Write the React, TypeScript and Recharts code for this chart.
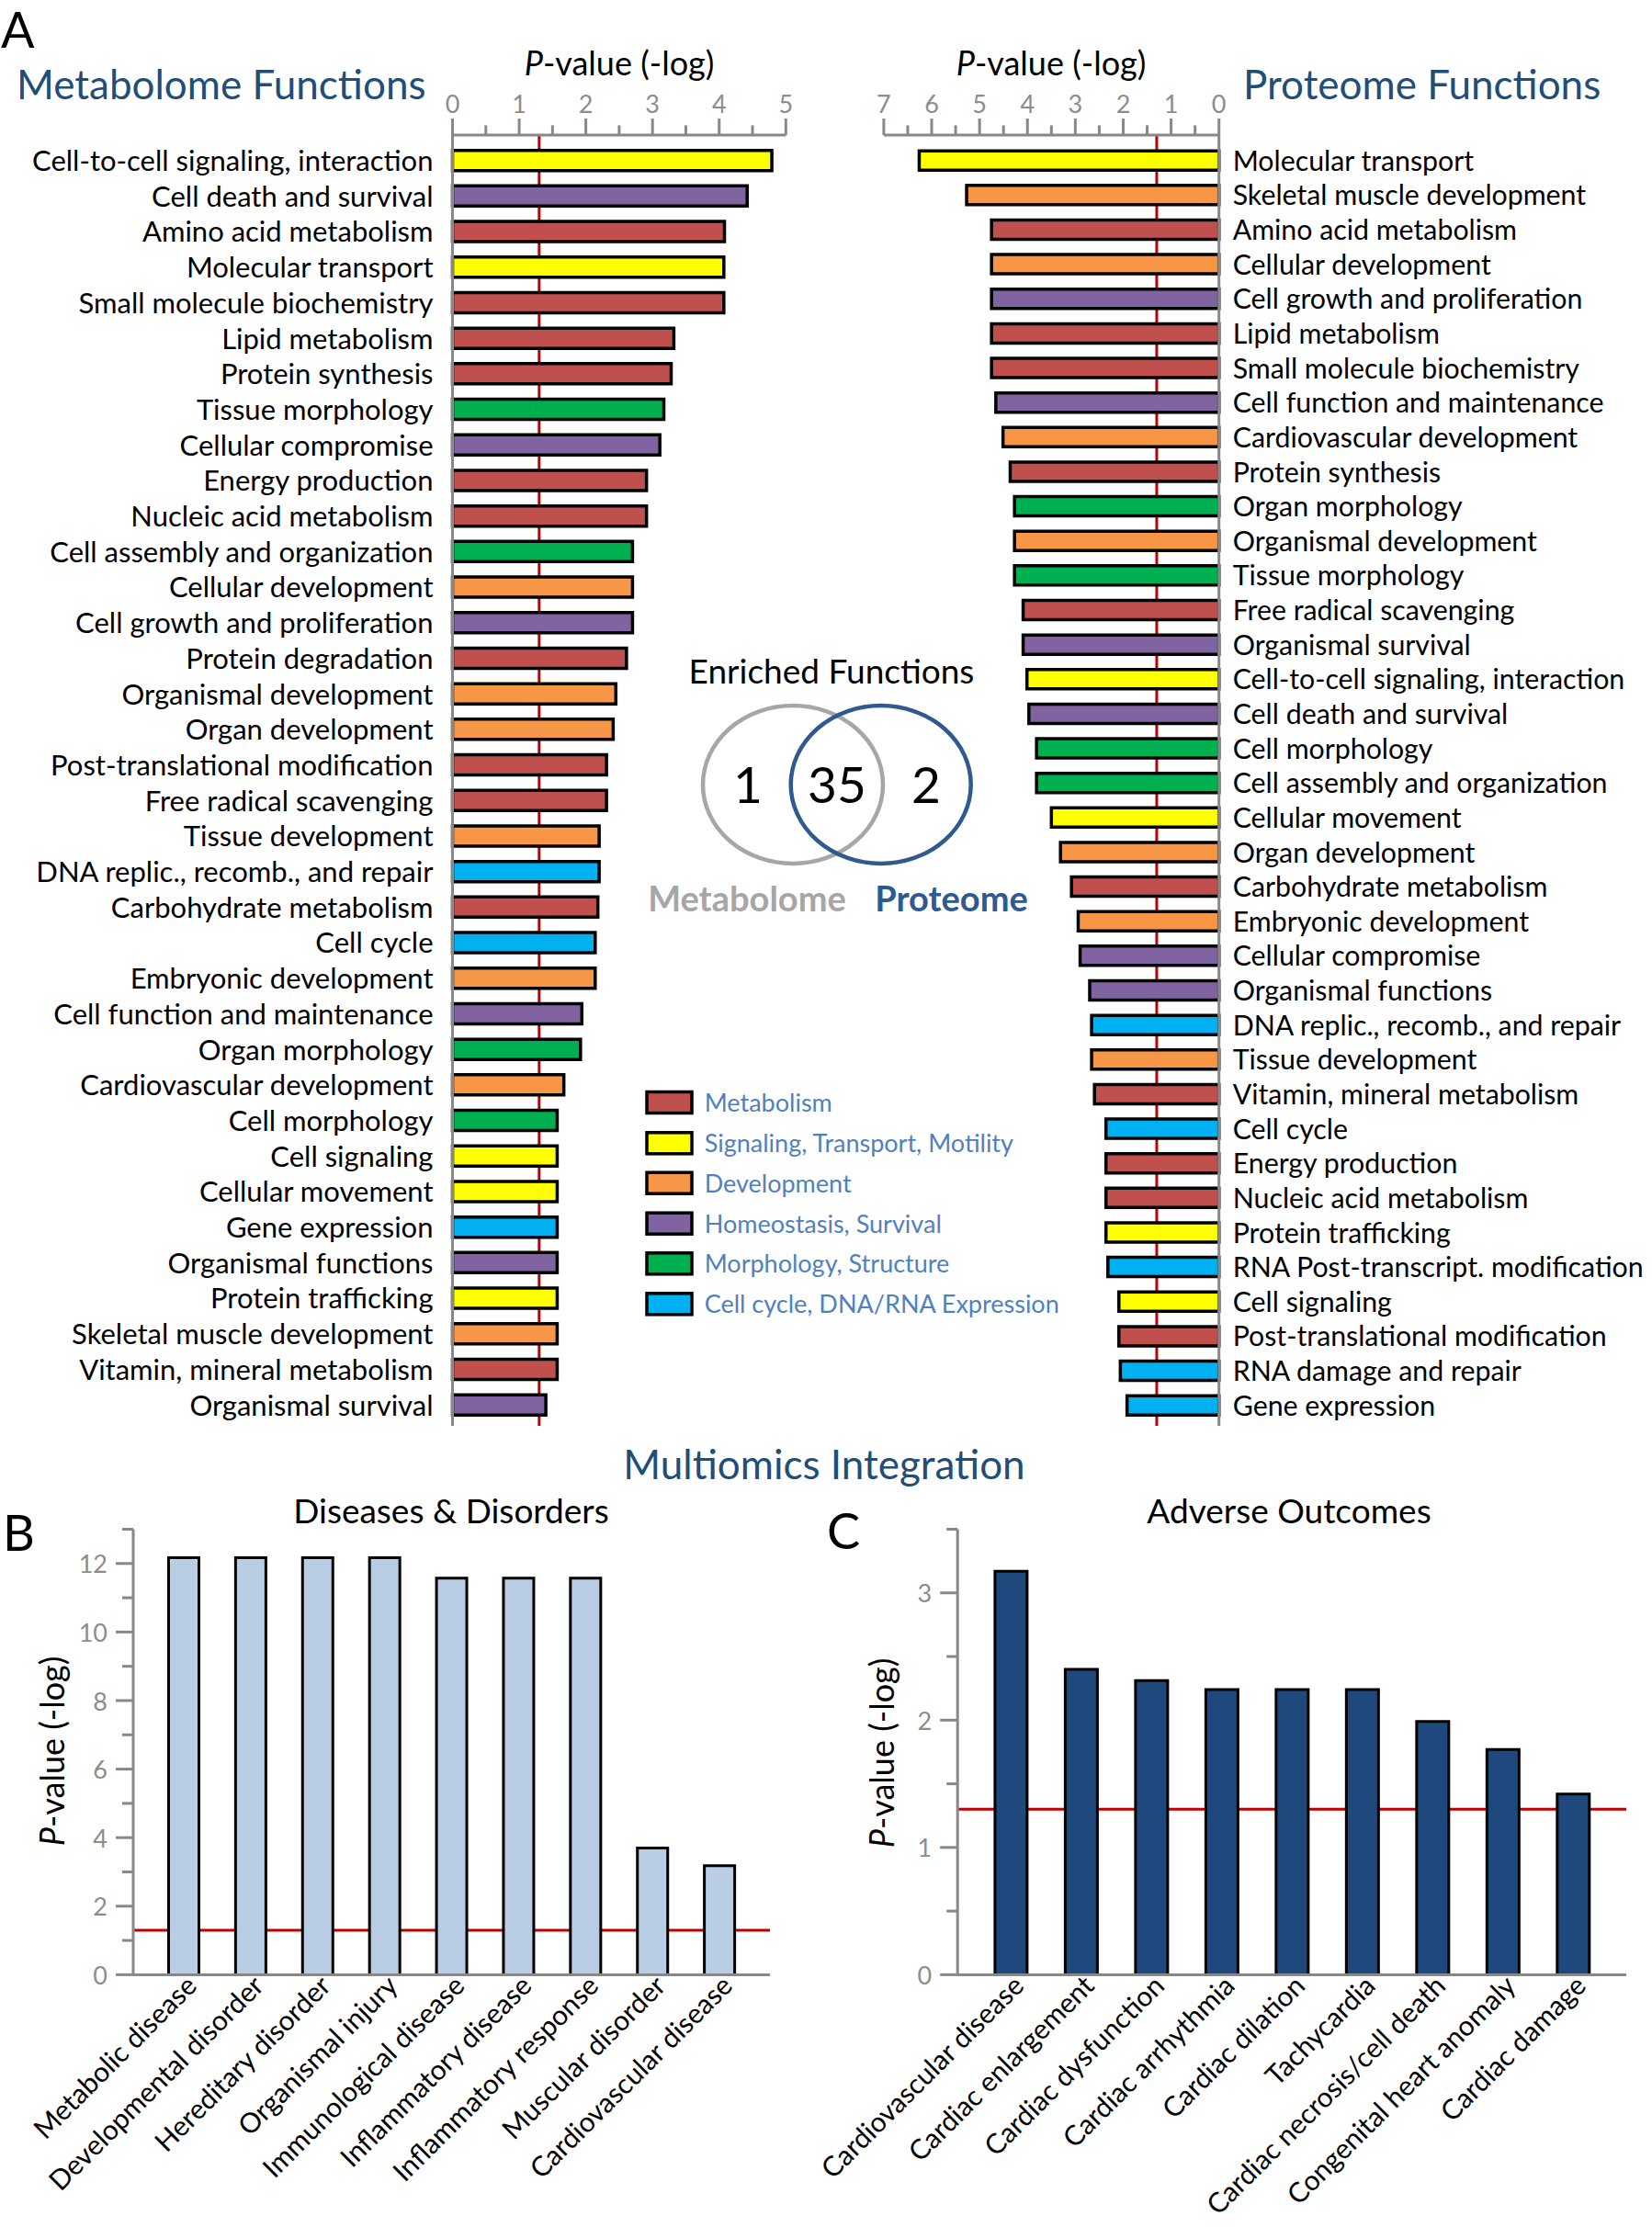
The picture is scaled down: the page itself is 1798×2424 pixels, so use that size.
import React from 'react';
import { BarChart, Bar, XAxis, YAxis, ReferenceLine, Cell } from 'recharts';

const FONT = 'Lato, "Open Sans", sans-serif';
const GRAY = '#888888';
const GRAY_TXT = '#8C8C8C';
const RED = '#C00000';
const TITLE_BLUE = '#1F4E79';
const VENN_BLUE = '#2F5A8F';
const LEGEND_BLUE = '#4F81BD';

// ---- groups / legend ----
const groupKeys = ['M', 'S', 'D', 'H', 'P', 'C'];
const groupNames = [
  'Metabolism',
  'Signaling, Transport, Motility',
  'Development',
  'Homeostasis, Survival',
  'Morphology, Structure',
  'Cell cycle, DNA/RNA Expression',
];
const groupColors = ['#C0504D', '#FFFF00', '#F79646', '#8064A2', '#00B050', '#00B0F0'];

// ---- Metabolome functions ----
const metaCategories = [
  'Cell-to-cell signaling, interaction', 'Cell death and survival', 'Amino acid metabolism',
  'Molecular transport', 'Small molecule biochemistry', 'Lipid metabolism', 'Protein synthesis',
  'Tissue morphology', 'Cellular compromise', 'Energy production', 'Nucleic acid metabolism',
  'Cell assembly and organization', 'Cellular development', 'Cell growth and proliferation',
  'Protein degradation', 'Organismal development', 'Organ development',
  'Post-translational modification', 'Free radical scavenging', 'Tissue development',
  'DNA replic., recomb., and repair', 'Carbohydrate metabolism', 'Cell cycle',
  'Embryonic development', 'Cell function and maintenance', 'Organ morphology',
  'Cardiovascular development', 'Cell morphology', 'Cell signaling', 'Cellular movement',
  'Gene expression', 'Organismal functions', 'Protein trafficking',
  'Skeletal muscle development', 'Vitamin, mineral metabolism', 'Organismal survival',
];
const metaValues = [
  4.79, 4.42, 4.08, 4.07, 4.07, 3.32, 3.28, 3.17, 3.11, 2.91, 2.91, 2.70, 2.70, 2.70,
  2.61, 2.45, 2.41, 2.31, 2.31, 2.20, 2.20, 2.18, 2.14, 2.14, 1.94, 1.92, 1.67, 1.57,
  1.57, 1.57, 1.57, 1.57, 1.57, 1.57, 1.57, 1.40,
];
const metaGroups = [
  'S', 'H', 'M', 'S', 'M', 'M', 'M', 'P', 'H', 'M', 'M', 'P', 'D', 'H', 'M', 'D', 'D', 'M',
  'M', 'D', 'C', 'M', 'C', 'D', 'H', 'P', 'D', 'P', 'S', 'S', 'C', 'H', 'S', 'D', 'M', 'H',
];
const metaTicks = [0, 0.5, 1, 1.5, 2, 2.5, 3, 3.5, 4, 4.5, 5];

// ---- Proteome functions ----
const protCategories = [
  'Molecular transport', 'Skeletal muscle development', 'Amino acid metabolism',
  'Cellular development', 'Cell growth and proliferation', 'Lipid metabolism',
  'Small molecule biochemistry', 'Cell function and maintenance', 'Cardiovascular development',
  'Protein synthesis', 'Organ morphology', 'Organismal development', 'Tissue morphology',
  'Free radical scavenging', 'Organismal survival', 'Cell-to-cell signaling, interaction',
  'Cell death and survival', 'Cell morphology', 'Cell assembly and organization',
  'Cellular movement', 'Organ development', 'Carbohydrate metabolism', 'Embryonic development',
  'Cellular compromise', 'Organismal functions', 'DNA replic., recomb., and repair',
  'Tissue development', 'Vitamin, mineral metabolism', 'Cell cycle', 'Energy production',
  'Nucleic acid metabolism', 'Protein trafficking', 'RNA Post-transcript. modification',
  'Cell signaling', 'Post-translational modification', 'RNA damage and repair', 'Gene expression',
];
const protValues = [
  6.26, 5.27, 4.75, 4.75, 4.75, 4.75, 4.75, 4.66, 4.51, 4.36, 4.27, 4.27, 4.27, 4.09, 4.09,
  4.01, 3.97, 3.81, 3.81, 3.50, 3.31, 3.08, 2.94, 2.90, 2.70, 2.66, 2.66, 2.60, 2.36, 2.36,
  2.36, 2.36, 2.32, 2.09, 2.09, 2.06, 1.92,
];
const protGroups = [
  'S', 'D', 'M', 'D', 'H', 'M', 'M', 'H', 'D', 'M', 'P', 'D', 'P', 'M', 'H', 'S', 'H', 'P',
  'P', 'S', 'D', 'M', 'D', 'H', 'H', 'C', 'D', 'M', 'C', 'M', 'M', 'S', 'C', 'S', 'M', 'C', 'C',
];
const protTicks = [0, 0.5, 1, 1.5, 2, 2.5, 3, 3.5, 4, 4.5, 5, 5.5, 6, 6.5, 7];

// ---- Venn ----
const vennCounts = ['1', '35', '2'];

// ---- Diseases & Disorders ----
const disCategories = [
  'Metabolic disease', 'Developmental disorder', 'Hereditary disorder', 'Organismal injury',
  'Immunological disease', 'Inflammatory disease', 'Inflammatory response', 'Muscular disorder',
  'Cardiovascular disease',
];
const disValues = [12.17, 12.17, 12.17, 12.17, 11.57, 11.57, 11.57, 3.70, 3.18];
const disTicks = [0, 1, 2, 3, 4, 5, 6, 7, 8, 9, 10, 11, 12, 13];

// ---- Adverse Outcomes ----
const advCategories = [
  'Cardiovascular disease', 'Cardiac enlargement', 'Cardiac dysfunction', 'Cardiac arrhythmia',
  'Cardiac dilation', 'Tachycardia', 'Cardiac necrosis/cell death', 'Congenital heart anomaly',
  'Cardiac damage',
];
const advValues = [3.17, 2.40, 2.31, 2.24, 2.24, 2.24, 1.99, 1.77, 1.42];
const advTicks = [0, 0.5, 1, 1.5, 2, 2.5, 3, 3.5];

const THRESHOLD = 1.3;

const colorOf = (g: string) => groupColors[groupKeys.indexOf(g)];

const metaData = metaCategories.map((name, i) => ({ name, value: metaValues[i], group: metaGroups[i] }));
const protData = protCategories.map((name, i) => ({ name, value: protValues[i], group: protGroups[i] }));
const disData = disCategories.map((name, i) => ({ name, value: disValues[i] }));
const advData = advCategories.map((name, i) => ({ name, value: advValues[i] }));

const TopTick = (props: any) => {
  const { x, y, payload } = props;
  const v = payload.value;
  const major = Number.isInteger(v);
  return (
    <g>
      <line x1={x} x2={x} y1={y} y2={y - (major ? 18 : 10.6)} stroke={GRAY} strokeWidth={3} />
      {major && (
        <text x={x} y={y - 35} textAnchor="middle" dominantBaseline="central" fontSize={27}
          fill={GRAY_TXT} fontFamily={FONT}>{v}</text>
      )}
    </g>
  );
};

const makeLeftTick = (isMajor: (v: number) => boolean) => (props: any) => {
  const { x, y, payload } = props;
  const v = payload.value;
  const major = isMajor(v);
  return (
    <g>
      <line x1={x} x2={x - (major ? 19 : 12)} y1={y} y2={y} stroke={GRAY} strokeWidth={3} />
      {major && (
        <text x={x - 28} y={y} textAnchor="end" dominantBaseline="central" fontSize={27}
          fill={GRAY_TXT} fontFamily={FONT}>{v}</text>
      )}
    </g>
  );
};

const RotTick = (props: any) => {
  const { x, y, payload } = props;
  return (
    <text transform={`translate(${x + 16},${y + 14}) rotate(-45)`} textAnchor="end"
      fontSize={30} fill="#000" fontFamily={FONT}>{payload.value}</text>
  );
};

const PLabel = ({ x, y, rotate }: { x: number; y: number; rotate?: boolean }) => (
  <text x={x} y={y} textAnchor="middle" fontSize={36} fontFamily={FONT} fill="#000"
    transform={rotate ? `rotate(-90 ${x} ${y})` : undefined}>
    <tspan fontStyle="italic">P</tspan>-value (-log)
  </text>
);

const legendY = [1200, 1244.3, 1287.7, 1331.7, 1375.3, 1419.3];

export default function App() {
  return (
    <div style={{ position: 'absolute', left: 0, top: 0, width: 1798, height: 2424, background: '#fff', fontFamily: FONT }}>
      {/* Metabolome functions */}
      <div style={{ position: 'absolute', left: 0, top: 0 }}>
        <BarChart width={870} height={1560} data={metaData} layout="vertical"
          margin={{ top: 0, right: 14.7, bottom: 8, left: 0 }}>
          <XAxis type="number" orientation="top" domain={[0, 5]} ticks={metaTicks} interval={0}
            height={147} tickSize={0} tickMargin={0} tickLine={false}
            axisLine={{ stroke: GRAY, strokeWidth: 3 }} tick={<TopTick />} />
          <YAxis type="category" dataKey="name" width={492.5} interval={0} tickSize={0}
            tickMargin={21} tickLine={false} axisLine={{ stroke: GRAY, strokeWidth: 3 }}
            tick={{ fontSize: 31, fill: '#000', fontFamily: FONT }}
            padding={{ top: 8.65, bottom: 3.15 }} />
          <ReferenceLine x={THRESHOLD} stroke={RED} strokeWidth={3} zIndex={100} />
          <Bar dataKey="value" barSize={22} stroke="#000" strokeWidth={3.5} isAnimationActive={false}>
            {metaData.map((d, i) => <Cell key={i} fill={colorOf(d.group)} />)}
          </Bar>
        </BarChart>
      </div>

      {/* Proteome functions */}
      <div style={{ position: 'absolute', left: 940, top: 0 }}>
        <BarChart width={858} height={1560} data={protData} layout="vertical"
          margin={{ top: 0, right: 0, bottom: 8, left: 21.9 }}>
          <XAxis type="number" orientation="top" reversed domain={[0, 7]} ticks={protTicks} interval={0}
            height={147} tickSize={0} tickMargin={0} tickLine={false}
            axisLine={{ stroke: GRAY, strokeWidth: 3 }} tick={<TopTick />} />
          <YAxis type="category" dataKey="name" orientation="right" width={471.3} interval={0}
            tickSize={0} tickMargin={15} tickLine={false} axisLine={{ stroke: GRAY, strokeWidth: 3 }}
            tick={{ fontSize: 30.3, fill: '#000', fontFamily: FONT }}
            padding={{ top: 9.2, bottom: 3.2 }} />
          <ReferenceLine x={THRESHOLD} stroke={RED} strokeWidth={3} zIndex={100} />
          <Bar dataKey="value" barSize={21} stroke="#000" strokeWidth={3.5} isAnimationActive={false}>
            {protData.map((d, i) => <Cell key={i} fill={colorOf(d.group)} />)}
          </Bar>
        </BarChart>
      </div>

      {/* Diseases & Disorders */}
      <div style={{ position: 'absolute', left: 0, top: 1600 }}>
        <BarChart width={860} height={824} data={disData}
          margin={{ top: 64.5, right: 22, bottom: 0, left: 0 }}>
          <XAxis dataKey="name" type="category" interval={0} height={274.6} tickSize={0}
            tickMargin={0} tickLine={false} axisLine={{ stroke: GRAY, strokeWidth: 3 }}
            tick={<RotTick />} padding={{ left: 18.5, right: 18.5 }} />
          <YAxis type="number" domain={[0, 13]} ticks={disTicks} interval={0} width={145}
            tickSize={0} tickMargin={0} tickLine={false} axisLine={{ stroke: GRAY, strokeWidth: 3 }}
            tick={makeLeftTick((v) => v % 2 === 0)} />
          <ReferenceLine y={THRESHOLD} stroke={RED} strokeWidth={3} zIndex={100} />
          <Bar dataKey="value" barSize={33} fill="#B9CDE5" stroke="#000" strokeWidth={3}
            isAnimationActive={false} />
        </BarChart>
      </div>

      {/* Adverse Outcomes */}
      <div style={{ position: 'absolute', left: 850, top: 1600 }}>
        <BarChart width={948} height={824} data={advData}
          margin={{ top: 64.5, right: 28, bottom: 0, left: 30 }}>
          <XAxis dataKey="name" type="category" interval={0} height={274.6} tickSize={0}
            tickMargin={0} tickLine={false} axisLine={{ stroke: GRAY, strokeWidth: 3 }}
            tick={<RotTick />} padding={{ left: 19.7, right: 19.7 }} />
          <YAxis type="number" domain={[0, 3.5]} ticks={advTicks} interval={0} width={162.2}
            tickSize={0} tickMargin={0} tickLine={false} axisLine={{ stroke: GRAY, strokeWidth: 3 }}
            tick={makeLeftTick((v) => Number.isInteger(v))} />
          <ReferenceLine y={THRESHOLD} stroke={RED} strokeWidth={3} zIndex={100} />
          <Bar dataKey="value" barSize={35} fill="#1F497D" stroke="#000" strokeWidth={3}
            isAnimationActive={false} />
        </BarChart>
      </div>

      {/* Overlay texts, Venn, legend */}
      <svg width={1798} height={2424} style={{ position: 'absolute', left: 0, top: 0, pointerEvents: 'none' }}>
        <text x={1} y={52} fontSize={54} fontFamily={FONT} fill="#000">A</text>
        <text x={18} y={108} fontSize={44} fontFamily={FONT} fill={TITLE_BLUE}>Metabolome Functions</text>
        <text x={1353} y={108} fontSize={44} fontFamily={FONT} fill={TITLE_BLUE}>Proteome Functions</text>
        <PLabel x={674} y={82} />
        <PLabel x={1144} y={82} />

        <text x={905} y={744} textAnchor="middle" fontSize={37} fontFamily={FONT} fill="#000">Enriched Functions</text>
        <ellipse cx={863} cy={854} rx={98} ry={86} fill="none" stroke="#A6A6A6" strokeWidth={4.5} />
        <ellipse cx={958.7} cy={854} rx={98} ry={86} fill="none" stroke={VENN_BLUE} strokeWidth={4.5} />
        <text x={814} y={874} textAnchor="middle" fontSize={55} fontFamily={FONT} fill="#000">{vennCounts[0]}</text>
        <text x={911} y={874} textAnchor="middle" fontSize={55} fontFamily={FONT} fill="#000">{vennCounts[1]}</text>
        <text x={1008} y={874} textAnchor="middle" fontSize={55} fontFamily={FONT} fill="#000">{vennCounts[2]}</text>
        <text x={813} y={992} textAnchor="middle" fontSize={38} fontWeight="bold" fontFamily={FONT} fill="#A6A6A6">Metabolome</text>
        <text x={1035.5} y={992} textAnchor="middle" fontSize={38} fontWeight="bold" fontFamily={FONT} fill={VENN_BLUE}>Proteome</text>

        {groupNames.map((g, i) => (
          <g key={g}>
            <rect x={704} y={legendY[i] - 11.5} width={49} height={23} fill={groupColors[i]} stroke="#000" strokeWidth={3.5} />
            <text x={766.7} y={legendY[i] + 10} fontSize={27} fontFamily={FONT} fill={LEGEND_BLUE}>{g}</text>
          </g>
        ))}

        <text x={897} y={1610} textAnchor="middle" fontSize={44} fontFamily={FONT} fill={TITLE_BLUE}>Multiomics Integration</text>
        <text x={3} y={1688} fontSize={54} fontFamily={FONT} fill="#000">B</text>
        <text x={900} y={1686} fontSize={54} fontFamily={FONT} fill="#000">C</text>
        <text x={491} y={1658} textAnchor="middle" fontSize={37} fontFamily={FONT} fill="#000">Diseases &amp; Disorders</text>
        <text x={1403} y={1658} textAnchor="middle" fontSize={37} fontFamily={FONT} fill="#000">Adverse Outcomes</text>
        <PLabel x={70} y={1906} rotate />
        <PLabel x={973} y={1908} rotate />
      </svg>
    </div>
  );
}
